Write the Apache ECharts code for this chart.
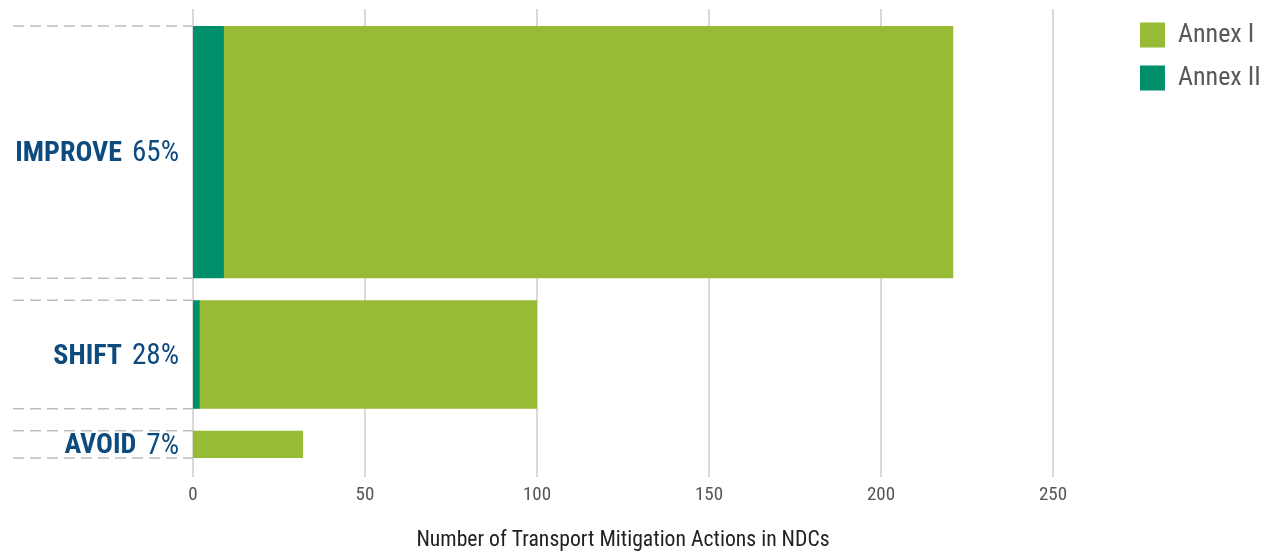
<!DOCTYPE html>
<html>
<head>
<meta charset="utf-8">
<title>Transport Mitigation Actions in NDCs</title>
<script src="https://cdn.jsdelivr.net/npm/echarts@6/dist/echarts.min.js"></script>
<style>
  html, body { margin: 0; padding: 0; background: #ffffff; }
  #chart { width: 1272px; height: 556px; }
</style>
</head>
<body>
<div id="chart"></div>
<script>
// Avoid–Shift–Improve breakdown of transport mitigation actions
const categories = ['IMPROVE', 'SHIFT', 'AVOID'];
const shares = [65, 28, 7];          // share of all actions, %, sets band thickness
const annexII = [9, 2, 0];
const annexI = [212, 98, 32];
const xTicks = [0, 50, 100, 150, 200, 250];

const FONT = "'Roboto Condensed', 'Liberation Sans Narrow', 'DejaVu Sans Condensed', sans-serif";
const GREEN_LIGHT = '#97bb35';
const GREEN_DARK = '#008f6b';
const NAVY = '#0d4a7e';

// Bands are stacked top-down in share units, separated by a fixed gap
const GAP = 5.67;
const PAD_TOP = 4.38;
const PAD_BOTTOM = 4.9;
const bandStart = [];
let acc = 0;
shares.forEach(function (s, i) {
  bandStart.push(acc);
  acc += s + GAP;
});
const yMax = acc - GAP + PAD_BOTTOM;

function barData(lowArr, valArr) {
  return categories.map(function (c, i) {
    const x0 = lowArr ? lowArr[i] : 0;
    return [x0, x0 + valArr[i], bandStart[i], bandStart[i] + shares[i]];
  });
}

function renderBar(params, api) {
  const p0 = api.coord([api.value(0), api.value(2)]);
  const p1 = api.coord([api.value(1), api.value(3)]);
  return {
    type: 'rect',
    shape: { x: p0[0], y: p0[1], width: p1[0] - p0[0], height: p1[1] - p0[1] },
    style: { fill: api.visual('color') }
  };
}

function renderLabel(params, api) {
  const i = params.dataIndex;
  const top = api.coord([0, bandStart[i]]);
  const bottom = api.coord([0, bandStart[i] + shares[i]]);
  const axisX = top[0];
  const lineStyle = { stroke: '#bdbdbd', lineWidth: 1.5, lineDash: [11, 6] };
  return {
    type: 'group',
    children: [
      { type: 'line', shape: { x1: 13, y1: top[1], x2: axisX, y2: top[1] }, style: lineStyle },
      { type: 'line', shape: { x1: 13, y1: bottom[1], x2: axisX, y2: bottom[1] }, style: lineStyle },
      {
        type: 'text',
        x: axisX - 14,
        y: (top[1] + bottom[1]) / 2 + 2,
        style: {
          text: '{b|' + categories[i] + '}{r|' + shares[i] + '%}',
          align: 'right',
          verticalAlign: 'middle',
          rich: {
            b: { fontFamily: FONT, fontWeight: 'bold', fontSize: 28, fill: NAVY },
            r: { fontFamily: FONT, fontWeight: 'normal', fontSize: 29, fill: NAVY, padding: [0, 0, 0, 10] }
          }
        }
      }
    ]
  };
}

const chart = echarts.init(document.getElementById('chart'), null, { renderer: 'canvas' });
chart.setOption({
  animation: false,
  backgroundColor: '#ffffff',
  textStyle: { fontFamily: FONT },
  grid: { left: 193, right: 219, top: 9, bottom: 79, outerBoundsMode: 'none', containLabel: false },
  legend: {
    data: ['Annex I', 'Annex II'],
    orient: 'vertical',
    left: 1140,
    top: 22,
    padding: 0,
    itemWidth: 25,
    itemHeight: 25,
    itemGap: 17,
    icon: 'rect',
    textStyle: { fontFamily: FONT, fontSize: 26, color: '#595959', padding: [0, 0, 0, 8] },
    selectedMode: false
  },
  xAxis: {
    type: 'value',
    min: xTicks[0],
    max: xTicks[xTicks.length - 1],
    interval: xTicks[1] - xTicks[0],
    axisLine: { show: false },
    axisTick: { show: false },
    splitLine: { show: true, lineStyle: { color: '#cccccc', width: 1.5 } },
    axisLabel: { color: '#555555', fontSize: 19, margin: 9, fontFamily: FONT },
    name: 'Number of Transport Mitigation Actions in NDCs',
    nameLocation: 'middle',
    nameGap: 53,
    nameTextStyle: { color: '#222222', fontSize: 21.7, fontFamily: FONT }
  },
  yAxis: {
    type: 'value',
    inverse: true,
    min: -PAD_TOP,
    max: yMax,
    show: false
  },
  series: [
    {
      name: 'Annex II',
      type: 'custom',
      renderItem: renderBar,
      itemStyle: { color: GREEN_DARK },
      encode: { x: [0, 1], y: [2, 3] },
      data: barData(null, annexII),
      z: 3
    },
    {
      name: 'Annex I',
      type: 'custom',
      renderItem: renderBar,
      itemStyle: { color: GREEN_LIGHT },
      encode: { x: [0, 1], y: [2, 3] },
      data: barData(annexII, annexI),
      z: 3
    },
    {
      name: 'labels',
      type: 'custom',
      renderItem: renderLabel,
      silent: true,
      clip: false,
      encode: { x: [], y: [] },
      data: categories.map(function (c, i) { return [i]; }),
      z: 4
    }
  ]
});
</script>
</body>
</html>
